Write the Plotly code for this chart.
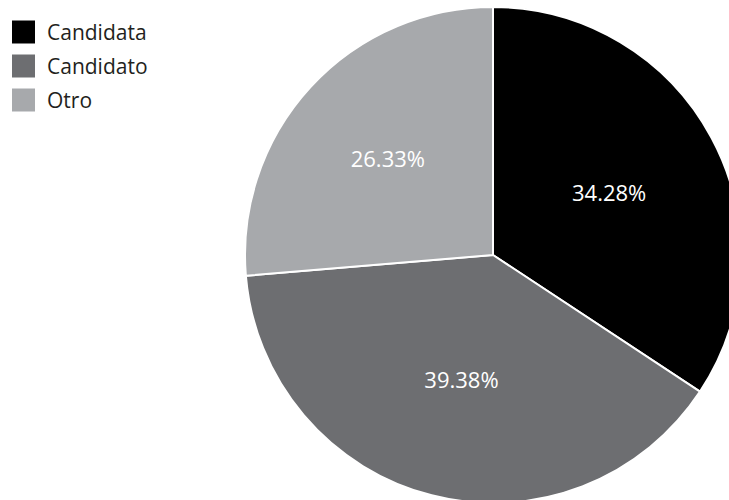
import plotly.graph_objects as go

labels = ["Candidata", "Candidato", "Otro"]
values = [34.28, 39.38, 26.33]
colors = ["#000000", "#6d6e71", "#a7a9ac"]

W, H = 741, 503
FONT = "Open Sans"

fig = go.Figure(go.Pie(
    labels=labels,
    values=values,
    sort=False,
    direction="clockwise",
    rotation=0,
    marker=dict(colors=colors, line=dict(color="white", width=2)),
    texttemplate="%{value:.2f}%",
    textposition="inside",
    insidetextorientation="horizontal",
    textfont=dict(family=FONT, size=22, color="white"),
    hoverinfo="label+value",
    domain=dict(x=[245 / W, 1], y=[0, 496 / H]),
    showlegend=False,
))

# manual legend (large square swatches)
shapes = []
annotations = []
for i, (lab, col) in enumerate(zip(labels, colors)):
    cy = 32 + 34 * i
    shapes.append(dict(type="rect", xref="paper", yref="paper",
                       x0=12 / W, x1=35 / W,
                       y0=1 - (cy + 11.5) / H, y1=1 - (cy - 11.5) / H,
                       fillcolor=col, line=dict(width=0)))
    annotations.append(dict(text=lab, xref="paper", yref="paper",
                            x=45 / W, y=1 - cy / H, xanchor="left", yanchor="middle",
                            showarrow=False,
                            font=dict(family=FONT, size=21, color="#231f20")))

fig.update_layout(
    width=W, height=H,
    margin=dict(l=0, r=0, t=0, b=0),
    paper_bgcolor="white",
    plot_bgcolor="white",
    shapes=shapes,
    annotations=annotations,
)

fig.write_html("out.html", config={"displayModeBar": False}, post_script=(
    "document.body.style.margin='0';"
    "document.body.style.overflow='hidden';"
    "document.documentElement.style.overflow='hidden';"
))
